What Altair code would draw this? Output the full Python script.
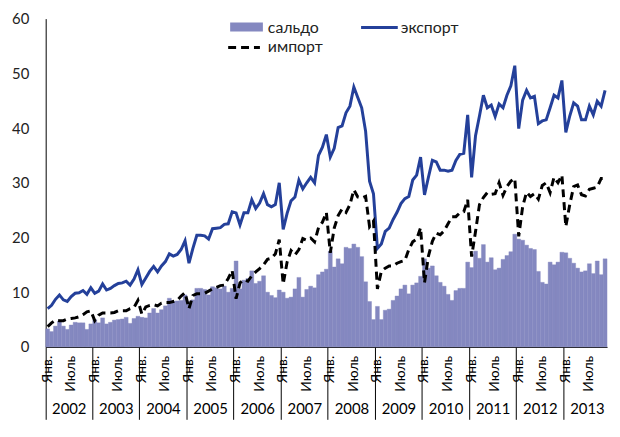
import altair as alt
import pandas as pd

# ---- data (billion USD, monthly, Jan 2002 - Nov 2013) ----
export_vals = [
    7.0, 7.6, 8.7, 9.5, 8.6, 8.3, 9.2, 9.8, 9.9, 10.3, 9.6, 10.8,
    9.8, 10.2, 11.5, 10.4, 10.7, 11.2, 11.6, 11.7, 12.0, 11.3, 12.4, 14.1,
    11.4, 12.6, 13.8, 14.7, 13.7, 14.8, 15.6, 17.0, 16.6, 16.9, 17.8, 19.4,
    15.3, 18.0, 20.4, 20.4, 20.3, 19.7, 21.6, 21.7, 21.8, 22.4, 22.5, 24.7,
    24.5, 22.3, 24.5, 24.5, 26.9, 25.3, 26.3, 28.0, 26.0, 25.6, 26.0, 30.0,
    21.5, 24.4, 26.7, 27.4, 30.5, 28.9, 30.0, 31.0, 30.0, 35.0, 36.5, 38.8,
    34.7, 36.3, 40.1, 40.4, 42.8, 44.0, 47.5, 45.6, 43.7, 39.4, 30.3, 28.0,
    18.0, 18.8, 21.1, 21.7, 23.3, 24.6, 26.2, 27.1, 27.5, 30.5, 31.4, 34.7,
    27.8, 31.0, 34.1, 33.8, 32.3, 32.3, 32.1, 32.3, 34.1, 35.2, 35.4, 42.4,
    31.0, 38.6, 42.2, 46.0, 43.7, 44.2, 42.1, 44.4, 43.7, 46.0, 47.7, 51.4,
    39.9, 45.1, 46.9, 45.5, 45.8, 40.8, 41.3, 41.5, 43.7, 46.0, 45.5, 48.7,
    39.2, 42.2, 44.6, 44.0, 41.5, 41.5, 44.0, 42.4, 44.9, 44.0, 46.9,
]
import_vals = [
    3.7, 4.4, 4.9, 4.8, 4.8, 5.1, 5.2, 5.3, 5.5, 5.9, 6.4, 6.6,
    4.8, 5.8, 6.2, 6.2, 6.2, 6.3, 6.6, 6.6, 6.6, 7.0, 7.2, 8.5,
    6.0, 7.3, 7.6, 7.7, 7.5, 8.0, 8.1, 8.1, 8.3, 8.5, 9.3, 9.9,
    7.0, 9.4, 9.7, 9.7, 9.8, 10.2, 10.6, 10.9, 11.2, 11.3, 12.5, 14.0,
    8.8, 11.7, 12.3, 12.0, 13.0, 13.7, 14.3, 15.0, 16.0, 16.2, 17.0, 19.6,
    11.5, 15.5, 17.6, 16.8, 17.8, 19.8, 19.5, 19.9, 19.2, 21.8, 22.8, 24.6,
    17.2, 21.7, 24.0, 25.2, 24.6, 26.0, 28.7, 27.4, 27.2, 27.5, 22.0, 23.0,
    10.6, 13.8, 14.4, 14.8, 14.8, 15.3, 15.6, 15.8, 17.8, 19.2, 19.7, 21.8,
    11.7, 16.6, 19.3, 20.8, 20.5, 21.2, 22.5, 23.8, 23.8, 24.5, 24.7, 26.9,
    16.5, 21.1, 26.0, 27.3, 28.2, 27.9, 28.0, 30.0, 27.7, 29.3, 30.3, 30.8,
    20.2, 25.6, 28.3, 27.5, 28.0, 27.0, 29.5, 30.0, 28.2, 31.0, 30.0, 31.4,
    22.0, 26.0, 29.3, 29.6, 27.8, 27.6, 28.8, 29.0, 29.2, 30.8, 30.8,
]
saldo_vals = [
    3.3, 2.8, 3.8, 4.7, 3.8, 3.2, 4.0, 4.5, 4.4, 4.4, 3.2, 4.2,
    5.0, 4.4, 5.3, 4.2, 4.5, 4.9, 5.0, 5.1, 5.4, 4.3, 5.2, 5.6,
    5.4, 5.3, 6.2, 7.0, 6.2, 6.8, 7.5, 8.9, 8.3, 8.4, 8.5, 9.5,
    8.3, 8.6, 10.7, 10.7, 10.5, 9.5, 11.0, 10.8, 10.6, 11.1, 10.0, 10.7,
    15.7, 10.6, 12.2, 12.5, 13.9, 11.6, 12.0, 13.0, 10.0, 9.4, 9.0, 10.4,
    10.0, 8.9, 9.1, 10.6, 12.7, 9.1, 10.5, 11.1, 10.8, 13.2, 13.7, 14.2,
    17.5, 14.6, 16.1, 15.2, 18.2, 18.0, 18.8, 18.2, 16.5, 11.9, 8.3, 5.0,
    7.4, 5.0, 6.7, 6.9, 8.5, 9.3, 10.6, 11.3, 9.7, 11.3, 11.7, 12.9,
    16.1, 14.4, 14.8, 13.0, 11.8, 11.1, 9.6, 8.5, 10.3, 10.7, 10.7, 15.5,
    14.5, 17.5, 16.2, 18.7, 15.5, 16.3, 14.1, 14.4, 16.0, 16.7, 17.4, 20.6,
    19.7, 19.5, 18.6, 18.0, 17.8, 13.8, 11.8, 11.5, 15.5, 15.0, 15.5, 17.3,
    17.2, 16.2, 15.3, 14.4, 13.7, 13.9, 15.2, 13.4, 15.7, 13.2, 16.1,
]
years = ["2002", "2003", "2004", "2005", "2006", "2007",
         "2008", "2009", "2010", "2011", "2012", "2013"]
month_labels = ["Янв.", "Июль"]          # shown for month 0 and month 6 of each year
month_label_pos = [0, 6]
y_ticks = [0, 10, 20, 30, 40, 50, 60]

n = len(export_vals)
df = pd.DataFrame({
    "idx": list(range(n)),
    "export": export_vals,
    "import": import_vals,
    "saldo": saldo_vals,
})

lab_rows = []
for yi in range(len(years)):
    for lbl, m in zip(month_labels, month_label_pos):
        k = yi * 12 + m
        if k < n:
            lab_rows.append({"idx": k, "text": lbl})
lab_df = pd.DataFrame(lab_rows)
year_df = pd.DataFrame({"idx": [yi * 12 + 6 for yi in range(len(years))], "text": years})

W, H = 566, 331
FONT = "Lato"
BAR = "#8488C0"
EXP = "#24409A"

xscale = alt.Scale(domain=list(range(n)), paddingInner=0, paddingOuter=0)
xaxis = alt.Axis(values=[yi * 12 for yi in range(len(years))], bandPosition=0,
                 labels=False, title=None, grid=False, tickSize=73,
                 tickColor="black", domainColor="black", tickWidth=1, domainWidth=1)
X = alt.X("idx:O", scale=xscale, axis=xaxis)
yaxis = alt.Axis(values=y_ticks, ticks=False, grid=False, title=None,
                 labelFont=FONT, labelFontSize=15, labelColor="#222",
                 labelPadding=17, domainColor="black", domainWidth=1)
yscale = alt.Scale(domain=[0, 60], nice=False)

bars = alt.Chart(df).mark_bar(color=BAR, stroke=BAR, strokeWidth=0.4).encode(
    x=X, y=alt.Y("saldo:Q", scale=yscale, axis=yaxis))
exp_line = alt.Chart(df).mark_line(color=EXP, strokeWidth=3).encode(
    x=X, y=alt.Y("export:Q", scale=yscale, axis=yaxis))
imp_line = alt.Chart(df).mark_line(color="black", strokeWidth=3, strokeDash=[8, 5]).encode(
    x=X, y=alt.Y("import:Q", scale=yscale, axis=yaxis))

mon_text = alt.Chart(lab_df).mark_text(
    angle=270, align="right", baseline="middle", font=FONT, fontSize=14, color="black"
).encode(x=X, y=alt.value(H + 9), text="text:N")

year_text = alt.Chart(year_df).mark_text(
    align="center", baseline="middle", font=FONT, fontSize=15, color="black"
).encode(x=alt.X("idx:O", scale=xscale, axis=xaxis, bandPosition=0),
         y=alt.value(H + 63), text="text:N")

one = alt.Chart(pd.DataFrame({"k": [0]}))
leg_rect = one.mark_rect(color=BAR).encode(
    x=alt.value(186), x2=alt.value(219), y=alt.value(4), y2=alt.value(13))
leg_exp = one.mark_rule(color=EXP, strokeWidth=3).encode(
    x=alt.value(318), x2=alt.value(355), y=alt.value(9))
leg_imp = one.mark_rule(color="black", strokeWidth=3, strokeDash=[8, 5]).encode(
    x=alt.value(184), x2=alt.value(216), y=alt.value(29))
tstyle = dict(align="left", baseline="middle", font=FONT, fontSize=16, color="#222")
leg_t1 = one.mark_text(**tstyle).encode(x=alt.value(224), y=alt.value(9), text=alt.value("сальдо"))
leg_t2 = one.mark_text(**tstyle).encode(x=alt.value(358), y=alt.value(9), text=alt.value("экспорт"))
leg_t3 = one.mark_text(**tstyle).encode(x=alt.value(224), y=alt.value(29), text=alt.value("импорт"))

chart = alt.layer(
    bars, exp_line, imp_line, mon_text, year_text,
    leg_rect, leg_exp, leg_imp, leg_t1, leg_t2, leg_t3
).properties(
    width=W, height=H,
    padding={"left": 3, "top": 2, "right": 0, "bottom": 0},
    background="white",
).configure_view(stroke=None)

chart.save("out.html", embed_options={"renderer": "svg", "actions": False})
